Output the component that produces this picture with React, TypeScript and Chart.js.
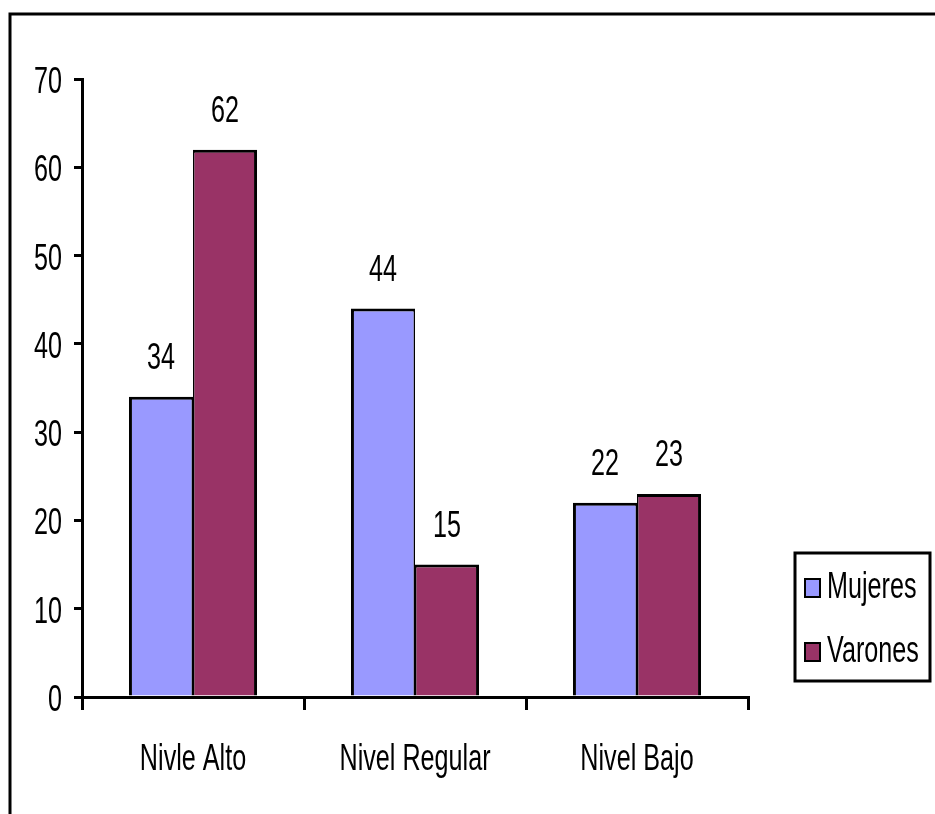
import React, { useEffect, useRef } from "react";
import { Chart, registerables } from "chart.js";

Chart.register(...registerables);

const categories = ["Nivle Alto", "Nivel Regular", "Nivel Bajo"];
const seriesNames = ["Mujeres", "Varones"];
const mujeres = [34, 44, 22];
const varones = [62, 15, 23];
const seriesColors = ["#9999FF", "#993366"];
const yMin = 0;
const yMax = 70;
const yStep = 10;

const FONT = "'Liberation Sans', Arimo, Arial, sans-serif";
const FONT_SIZE = 37;
const SX = 0.68; // horizontal compression of the tall, narrow lettering

function narrowText(ctx: CanvasRenderingContext2D, text: string, x: number, y: number, align: CanvasTextAlign) {
  ctx.save();
  ctx.translate(x, y);
  ctx.scale(SX, 1);
  ctx.textAlign = align;
  ctx.textBaseline = "alphabetic";
  ctx.fillText(text, 0, 0);
  ctx.restore();
}

const framePlugin = {
  id: "frame",
  beforeDraw(chart: any) {
    const ctx = chart.ctx;
    ctx.save();
    ctx.fillStyle = "#ffffff";
    ctx.fillRect(0, 0, chart.width, chart.height);
    ctx.strokeStyle = "#000000";
    ctx.lineWidth = 3;
    ctx.beginPath();
    ctx.moveTo(10, chart.height);
    ctx.lineTo(10, 14);
    ctx.lineTo(chart.width, 14);
    ctx.stroke();
    ctx.restore();
  },
};

const axisLabelPlugin = {
  id: "axisLabels",
  afterDraw(chart: any) {
    const ctx = chart.ctx;
    const xs = chart.scales.x;
    const ys = chart.scales.y;
    ctx.save();
    ctx.fillStyle = "#000000";
    ctx.font = `${FONT_SIZE}px ${FONT}`;
    ys.ticks.forEach((t: any, i: number) => {
      const py = ys.getPixelForTick(i);
      narrowText(ctx, String(t.label), ys.right - 20, py + 14, "right");
    });
    xs.ticks.forEach((t: any, i: number) => {
      const px = xs.getPixelForTick(i);
      narrowText(ctx, String(xs.getLabelForValue(t.value)), px, xs.top + 73, "center");
    });
    ctx.restore();
  },
};

const valueLabelPlugin = {
  id: "valueLabels",
  afterDatasetsDraw(chart: any) {
    const ctx = chart.ctx;
    ctx.save();
    ctx.fillStyle = "#000000";
    ctx.font = `${FONT_SIZE}px ${FONT}`;
    chart.data.datasets.forEach((ds: any, i: number) => {
      const meta = chart.getDatasetMeta(i);
      meta.data.forEach((el: any, j: number) => {
        narrowText(ctx, String(ds.data[j]), el.x, el.y - 28, "center");
      });
    });
    ctx.restore();
  },
};

const legendBoxPlugin = {
  id: "legendBox",
  afterDraw(chart: any) {
    const ctx = chart.ctx;
    const area = chart.chartArea;
    const left = area.right + 47;
    const top = 553;
    const w = 135;
    const h = 128;
    ctx.save();
    ctx.strokeStyle = "#000000";
    ctx.lineWidth = 3;
    ctx.strokeRect(left, top, w, h);
    ctx.font = `${FONT_SIZE}px ${FONT}`;
    chart.data.datasets.forEach((ds: any, i: number) => {
      const base = top + 45 + i * 64;
      ctx.fillStyle = ds.backgroundColor;
      ctx.fillRect(left + 10, base - 19, 15, 18);
      ctx.lineWidth = 2;
      ctx.strokeStyle = "#000000";
      ctx.strokeRect(left + 10, base - 19, 15, 18);
      ctx.fillStyle = "#000000";
      narrowText(ctx, ds.label, left + 32, base, "left");
    });
    ctx.restore();
  },
};

export default function App() {
  const canvasRef = useRef<HTMLCanvasElement | null>(null);

  useEffect(() => {
    const canvas = canvasRef.current;
    if (!canvas) return;
    const chart = new Chart(canvas, {
      type: "bar",
      data: {
        labels: categories,
        datasets: [
          {
            label: seriesNames[0],
            data: mujeres,
            backgroundColor: seriesColors[0],
            borderColor: "#000000",
            borderWidth: { top: 3, left: 3, right: 1.5, bottom: 0 },
            borderSkipped: false,
            categoryPercentage: 0.577,
            barPercentage: 1,
          },
          {
            label: seriesNames[1],
            data: varones,
            backgroundColor: seriesColors[1],
            borderColor: "#000000",
            borderWidth: { top: 3, left: 1.5, right: 3, bottom: 0 },
            borderSkipped: false,
            categoryPercentage: 0.577,
            barPercentage: 1,
          },
        ],
      },
      options: {
        responsive: false,
        animation: false,
        devicePixelRatio: 1,
        layout: { padding: { top: 79, right: 187, left: 0, bottom: 0 } },
        plugins: {
          legend: { display: false },
          tooltip: { enabled: false },
          title: { display: false },
        },
        scales: {
          x: {
            type: "category",
            offset: true,
            grid: {
              offset: true,
              drawOnChartArea: false,
              drawTicks: true,
              tickLength: 13,
              color: "#000000",
              lineWidth: 3,
            },
            border: { display: true, color: "#000000", width: 3 },
            ticks: { display: false },
            afterFit: (s: any) => {
              s.height = 117;
            },
          },
          y: {
            min: yMin,
            max: yMax,
            grid: {
              drawOnChartArea: false,
              drawTicks: true,
              tickLength: 8,
              color: "#000000",
              lineWidth: 3,
            },
            border: { display: true, color: "#000000", width: 3 },
            ticks: { display: false, stepSize: yStep },
            afterFit: (s: any) => {
              s.width = 82;
            },
          },
        },
      },
      plugins: [framePlugin, axisLabelPlugin, valueLabelPlugin, legendBoxPlugin],
    });
    return () => chart.destroy();
  }, []);

  return (
    <div style={{ position: "absolute", left: 0, top: 0, width: 935, height: 814 }}>
      <canvas ref={canvasRef} width={935} height={814} style={{ display: "block" }} />
    </div>
  );
}
